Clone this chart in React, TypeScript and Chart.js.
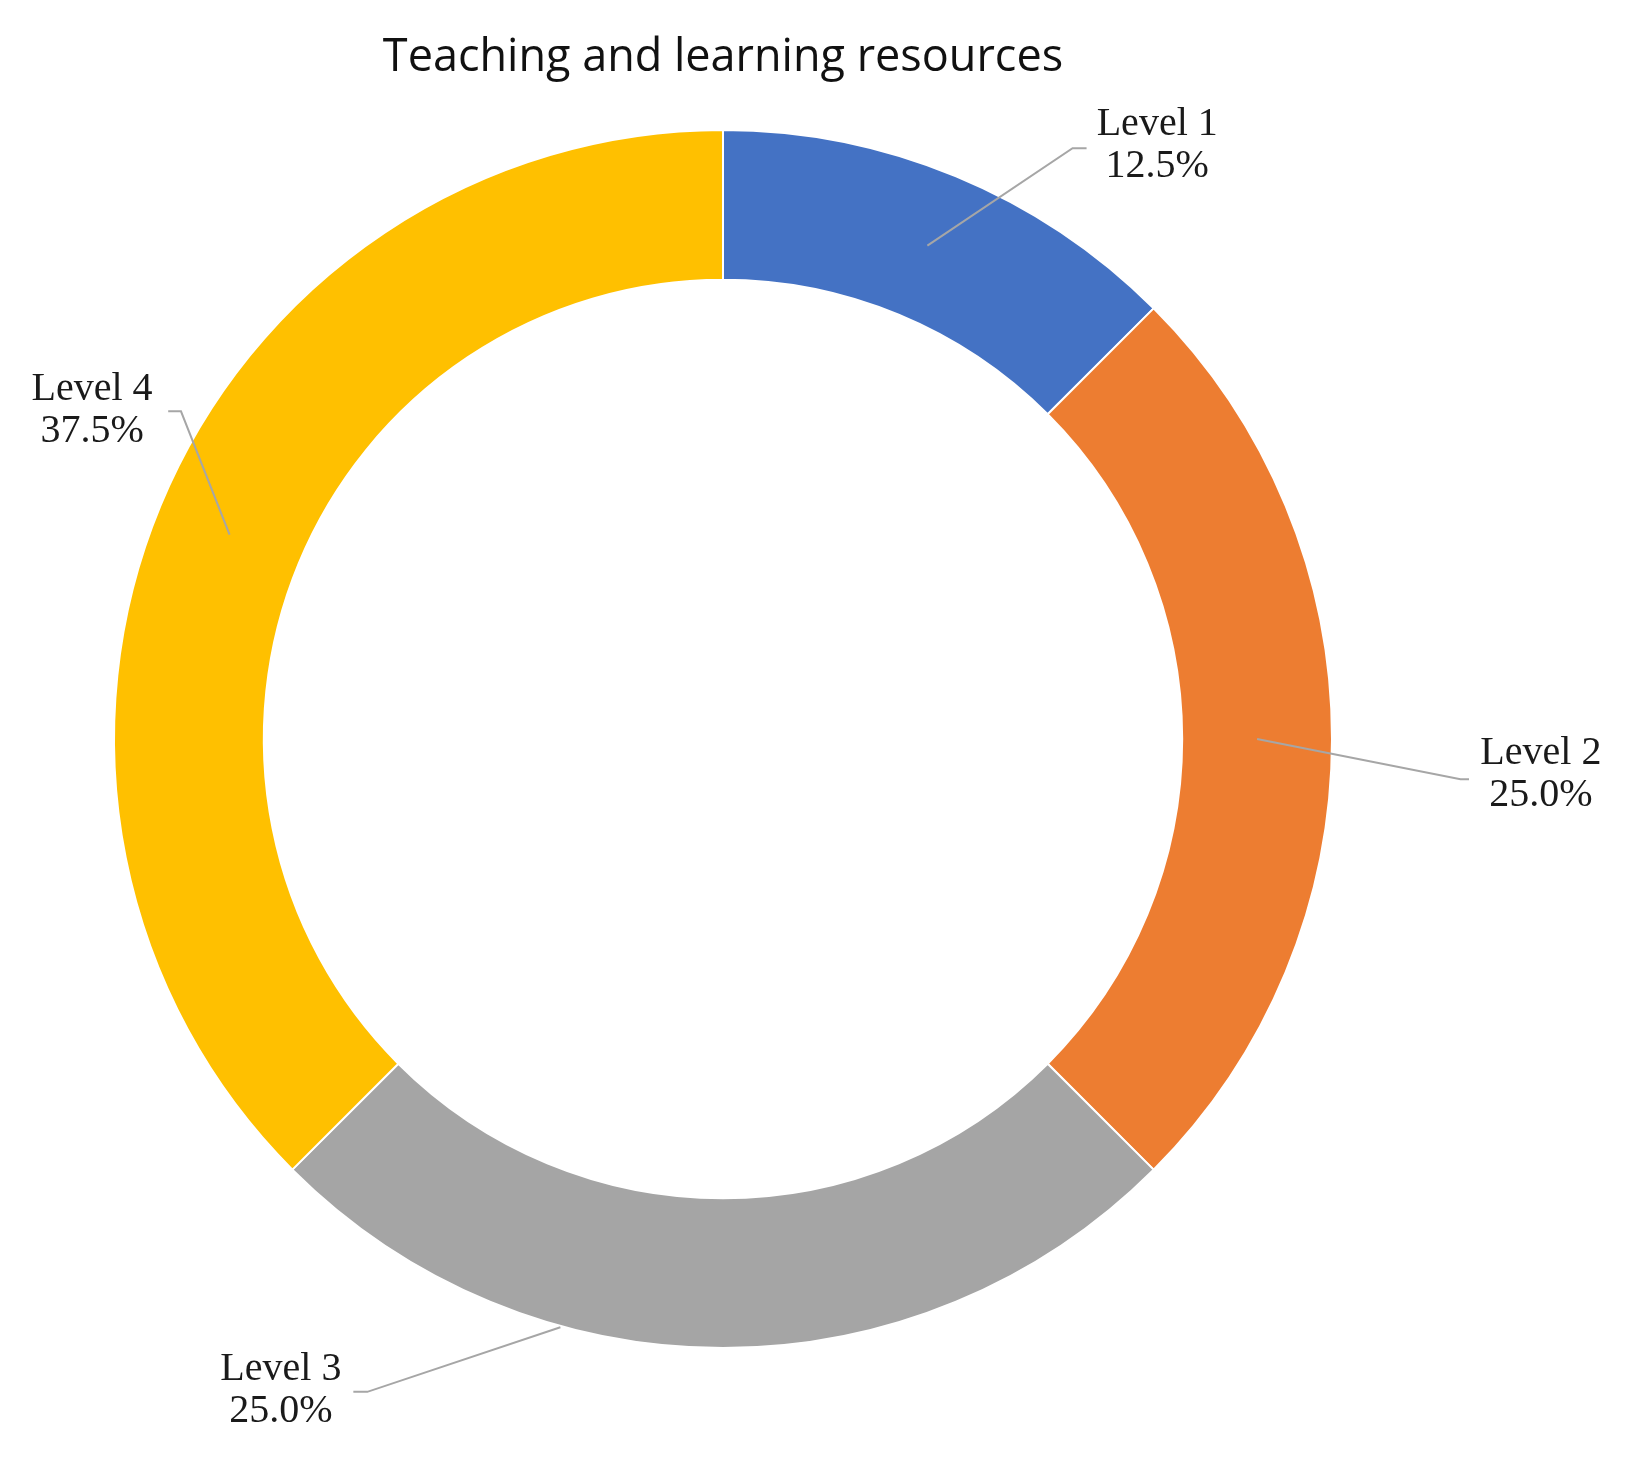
import React, { useEffect, useRef } from "react";
import { Chart, registerables } from "chart.js";

Chart.register(...registerables);

const categories = ["Level 1", "Level 2", "Level 3", "Level 4"];
const values = [12.5, 25.0, 25.0, 37.5];
const colors = ["#4472C4", "#ED7D31", "#A5A5A5", "#FFC000"];
const titleText = "Teaching and learning resources";

// label layout, in units of outer radius, relative to donut centre
const labelCenters: [number, number][] = [
  [0.713, -0.975],
  [1.343, 0.059],
  [-0.726, 1.069],
  [-1.036, -0.539],
];
const leaderElbows: [number, number][][] = [
  [[0.574, -0.97], [0.597, -0.97]],
  [[1.211, 0.066], [1.225, 0.066]],
  [[-0.584, 1.072], [-0.607, 1.072]],
  [[-0.89, -0.538], [-0.911, -0.538]],
];
// optional anchor overrides (relative coords), otherwise slice centre
const anchorOverrides: ([number, number] | null)[] = [null, null, [-0.267, 0.966], null];

const labelPlugin = {
  id: "outLabels",
  afterDatasetsDraw(chart: any) {
    const meta = chart.getDatasetMeta(0);
    const ctx = chart.ctx;
    const total = values.reduce((a, b) => a + b, 0);
    ctx.save();
    meta.data.forEach((arc: any, i: number) => {
      const { x, y, outerRadius } = arc.getProps(["x", "y", "outerRadius"], true);
      const R = outerRadius;
      let ax: number, ay: number;
      const ov = anchorOverrides[i];
      if (ov) {
        ax = x + ov[0] * R;
        ay = y + ov[1] * R;
      } else {
        const c = arc.getCenterPoint();
        ax = c.x;
        ay = c.y;
      }
      ctx.strokeStyle = "#A6A6A6";
      ctx.lineWidth = 2;
      ctx.beginPath();
      ctx.moveTo(ax, ay);
      leaderElbows[i].forEach((p) => ctx.lineTo(x + p[0] * R, y + p[1] * R));
      ctx.stroke();

      const tx = x + labelCenters[i][0] * R;
      const ty = y + labelCenters[i][1] * R;
      ctx.fillStyle = "#1a1a1a";
      ctx.font = "40px 'Liberation Serif'";
      ctx.textAlign = "center";
      ctx.textBaseline = "middle";
      ctx.fillText(categories[i], tx, ty - 21);
      ctx.fillText(((values[i] / total) * 100).toFixed(1) + "%", tx, ty + 21);
    });
    ctx.restore();
  },
};

export default function App() {
  const ref = useRef<HTMLCanvasElement>(null);
  useEffect(() => {
    document.body.style.margin = "0";
    const chart = new Chart(ref.current!, {
      type: "doughnut",
      data: {
        labels: categories,
        datasets: [
          {
            data: values,
            backgroundColor: colors,
            borderColor: "#ffffff",
            borderWidth: 2,
          },
        ],
      },
      options: {
        responsive: false,
        animation: false,
        cutout: "75.4%",
        layout: { padding: { left: 0, right: 195, top: 0, bottom: 109 } },
        plugins: {
          legend: { display: false },
          tooltip: { enabled: false },
          title: {
            display: true,
            text: titleText,
            color: "#111111",
            font: { family: "'Open Sans'", size: 45, weight: "500", lineHeight: 1.2 },
            padding: { top: 31, bottom: 44 },
          },
        },
      },
      plugins: [labelPlugin],
    });
    return () => chart.destroy();
  }, []);
  return (
    <div style={{ position: "absolute", left: 0, top: 0, width: 1641, height: 1458, background: "#fff" }}>
      <canvas ref={ref} width={1641} height={1458} />
    </div>
  );
}
